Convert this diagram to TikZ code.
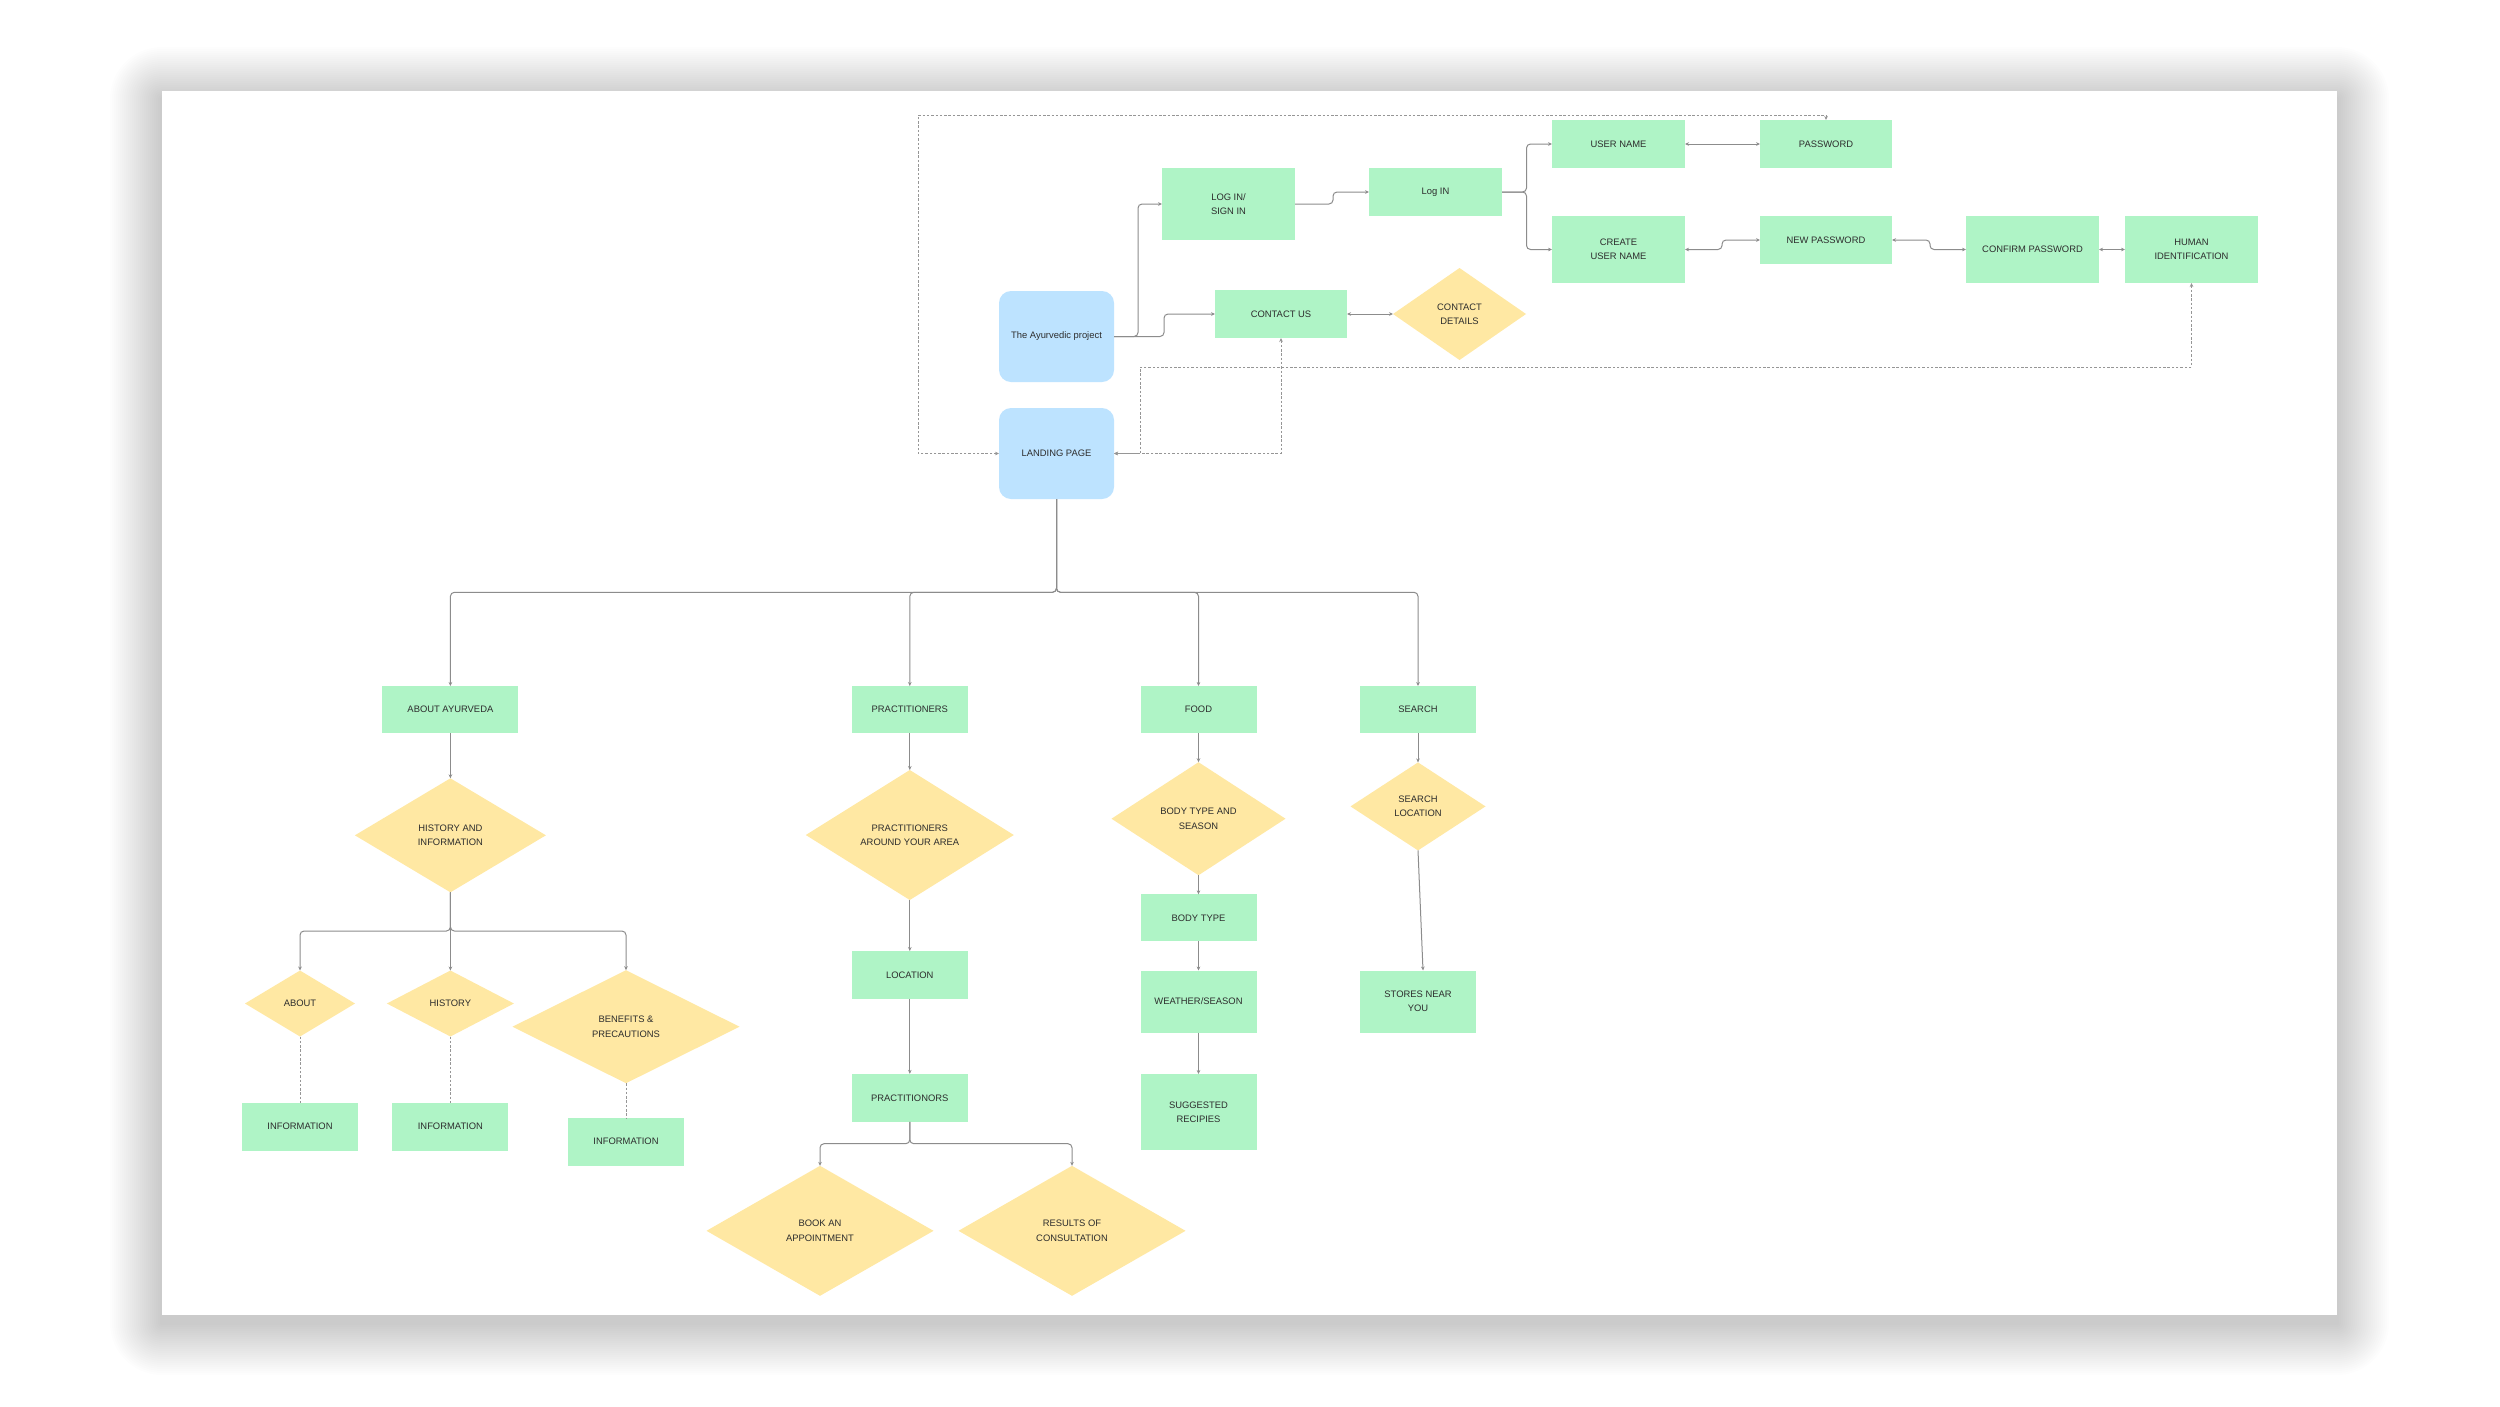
\documentclass[tikz,border=0pt]{standalone}
\usepackage{fontspec}
\setmainfont{Liberation Sans}
\usetikzlibrary{shapes.geometric,arrows.meta}
\definecolor{gbox}{RGB}{175,244,198}
\definecolor{bbox}{RGB}{189,227,255}
\definecolor{ybox}{RGB}{255,232,163}
\definecolor{lnc}{RGB}{140,140,140}
\definecolor{dlc}{RGB}{150,150,150}
\definecolor{txc}{RGB}{45,45,45}
\begin{document}
\begin{tikzpicture}[x=1pt,y=-1pt,
  base/.style={inner sep=0pt, outer sep=0pt, text=txc, font=\fontsize{9.4}{14.3}\selectfont, align=center},
  gbx/.style={base, rectangle, fill=gbox},
  bbx/.style={base, rectangle, rounded corners=12pt, fill=bbox},
  ydm/.style={base, diamond, fill=ybox},
  sz/.style 2 args={minimum width=#1pt, minimum height=#2pt},
  conn/.style={draw=lnc, line width=1pt, rounded corners=4pt},
  dconn/.style={draw=dlc, line width=0.9pt, dash pattern=on 2.5pt off 1.8pt},
  tip/.style={-{Stealth[length=4pt,width=3.6pt]}},
  tips/.style={{Stealth[length=4pt,width=3.6pt]}-{Stealth[length=4pt,width=3.6pt]}}
]
\useasboundingbox (0,0) rectangle (2500,1406);
\fill[white] (0,0) rectangle (2500,1406);
\foreach \i in {1,...,26} {
  \pgfmathsetmacro\r{2*\i}
  \fill[black, opacity=0.0085, rounded corners=\r pt] ({162-2*\i},{99-2*\i}) rectangle ({2337+2*\i},{1323+2*\i});
}
\fill[white] (162,91) rectangle (2337,1315);

% ---------- top part ----------
\node[bbx, sz={115}{91}] (proj) at (1056.5,336.5) {The Ayurvedic project};
\node[bbx, sz={115}{91}] (landing) at (1056.5,453.5) {LANDING PAGE};
\node[gbx, sz={133}{72}] (loginsign) at (1228.5,204) {LOG IN/\\SIGN IN};
\node[gbx, sz={133}{48}] (login) at (1435.5,192) {Log IN};
\node[gbx, sz={133}{48}] (user) at (1618.5,144) {USER NAME};
\node[gbx, sz={133}{67}] (create) at (1618.5,249.5) {CREATE\\USER NAME};
\node[gbx, sz={132}{48}] (pass) at (1826,144) {PASSWORD};
\node[gbx, sz={132}{48}] (newpass) at (1826,240) {NEW PASSWORD};
\node[gbx, sz={133}{67}] (confirm) at (2032.5,249.5) {CONFIRM PASSWORD};
\node[gbx, sz={133}{67}] (human) at (2191.5,249.5) {HUMAN\\IDENTIFICATION};
\node[gbx, sz={132}{48}] (contact) at (1281,314) {CONTACT US};
\node[ydm, sz={133}{92}] (cdet) at (1459.5,314) {CONTACT\\DETAILS};

\draw[conn, tip] (proj.east) -- ++(24,0) |- (loginsign.west);
\draw[conn, tip] (proj.east) -- ++(50,0) |- (contact.west);
\draw[conn, tip] (loginsign.east) -- ++(38,0) |- (login.west);
\draw[conn, tip] (login.east) -- ++(24.5,0) |- (user.west);
\draw[conn, tip] (login.east) -- ++(24.5,0) |- (create.west);
\draw[conn, tips] (contact.east) -- (cdet.west);
\draw[conn, tips] (user.east) -- (pass.west);
\draw[conn, tips] (create.east) -- ++(37,0) |- (newpass.west);
\draw[conn, tips] (newpass.east) -- ++(38,0) |- (confirm.west);
\draw[conn, tips] (confirm.east) -- (human.west);

\coordinate (dtl) at (918,115.3);
\coordinate (dmid) at (1140,367);
\draw[dconn, tips] (landing.west) -| (dtl) -| (pass.north);
\draw[dconn, tips] (human.south) |- (dmid) |- (landing.east);
\draw[dconn, tips] (contact.south) |- (landing.east);

% ---------- lower part ----------
\node[gbx, sz={136}{47}] (about) at (450.4,709.5) {ABOUT AYURVEDA};
\node[gbx, sz={116}{47}] (pract) at (909.8,709.5) {PRACTITIONERS};
\node[gbx, sz={116}{47}] (food) at (1198.5,709.5) {FOOD};
\node[gbx, sz={116}{47}] (search) at (1418,709.5) {SEARCH};

\node[ydm, sz={191}{114}] (hist) at (450.4,835.3) {HISTORY AND\\INFORMATION};
\node[ydm, sz={208}{130}] (parea) at (909.8,835) {PRACTITIONERS\\AROUND YOUR AREA};
\node[ydm, sz={174}{113}] (bseason) at (1198.5,818.7) {BODY TYPE AND\\SEASON};
\node[ydm, sz={135}{88}] (sloc) at (1418,806.4) {SEARCH\\LOCATION};

\node[gbx, sz={116}{47}] (btype) at (1198.5,917.8) {BODY TYPE};
\node[gbx, sz={116}{62}] (weather) at (1198.5,1001.5) {WEATHER/SEASON};
\node[gbx, sz={116}{76}] (recipes) at (1198.5,1112) {SUGGESTED\\RECIPIES};
\node[gbx, sz={116}{62}] (stores) at (1418,1001.5) {STORES NEAR\\YOU};
\node[gbx, sz={116}{48}] (location) at (909.8,975) {LOCATION};
\node[gbx, sz={116}{48}] (practor) at (909.8,1097.8) {PRACTITIONORS};
\node[ydm, sz={227}{130}] (book) at (820,1230.8) {BOOK AN\\APPOINTMENT};
\node[ydm, sz={227}{130}] (results) at (1072,1230.8) {RESULTS OF\\CONSULTATION};

\node[ydm, sz={110}{66}] (aboutd) at (300,1003.5) {ABOUT};
\node[ydm, sz={127}{66}] (historyd) at (450.4,1003.5) {HISTORY};
\node[ydm, sz={227}{113}] (benefits) at (626,1026.7) {BENEFITS \&\\PRECAUTIONS};
\node[gbx, sz={116}{48}] (info1) at (300,1126.7) {INFORMATION};
\node[gbx, sz={116}{48}] (info2) at (450.4,1126.7) {INFORMATION};
\node[gbx, sz={116}{48}] (info3) at (626,1141.7) {INFORMATION};

\coordinate (bus1) at (1056.5,592.3);
\draw[conn, tip] (landing.south) -- (bus1) -| (about.north);
\draw[conn, tip] (landing.south) -- (bus1) -| (pract.north);
\draw[conn, tip] (landing.south) -- (bus1) -| (food.north);
\draw[conn, tip] (landing.south) -- (bus1) -| (search.north);

\draw[conn, tip] (about.south) -- (hist.north);
\coordinate (bus2) at (450.4,931);
\draw[conn, tip] (hist.south) -- (bus2) -| (aboutd.north);
\draw[conn, tip] (hist.south) -- (historyd.north);
\draw[conn, tip] (hist.south) -- (bus2) -| (benefits.north);
\draw[dconn] (aboutd.south) -- (info1.north);
\draw[dconn] (historyd.south) -- (info2.north);
\draw[dconn] (benefits.south) -- (info3.north);

\draw[conn, tip] (pract.south) -- (parea.north);
\draw[conn, tip] (parea.south) -- (location.north);
\draw[conn, tip] (location.south) -- (practor.north);
\coordinate (bus3) at (909.8,1143.7);
\draw[conn, tip] (practor.south) -- (bus3) -| (book.north);
\draw[conn, tip] (practor.south) -- (bus3) -| (results.north);

\draw[conn, tip] (food.south) -- (bseason.north);
\draw[conn, tip] (bseason.south) -- (btype.north);
\draw[conn, tip] (btype.south) -- (weather.north);
\draw[conn, tip] (weather.south) -- (recipes.north);

\draw[conn, tip] (search.south) -- (sloc.north);
\draw[conn, tip] (sloc.south) -- ([xshift=5pt]stores.north);
\end{tikzpicture}
\end{document}
